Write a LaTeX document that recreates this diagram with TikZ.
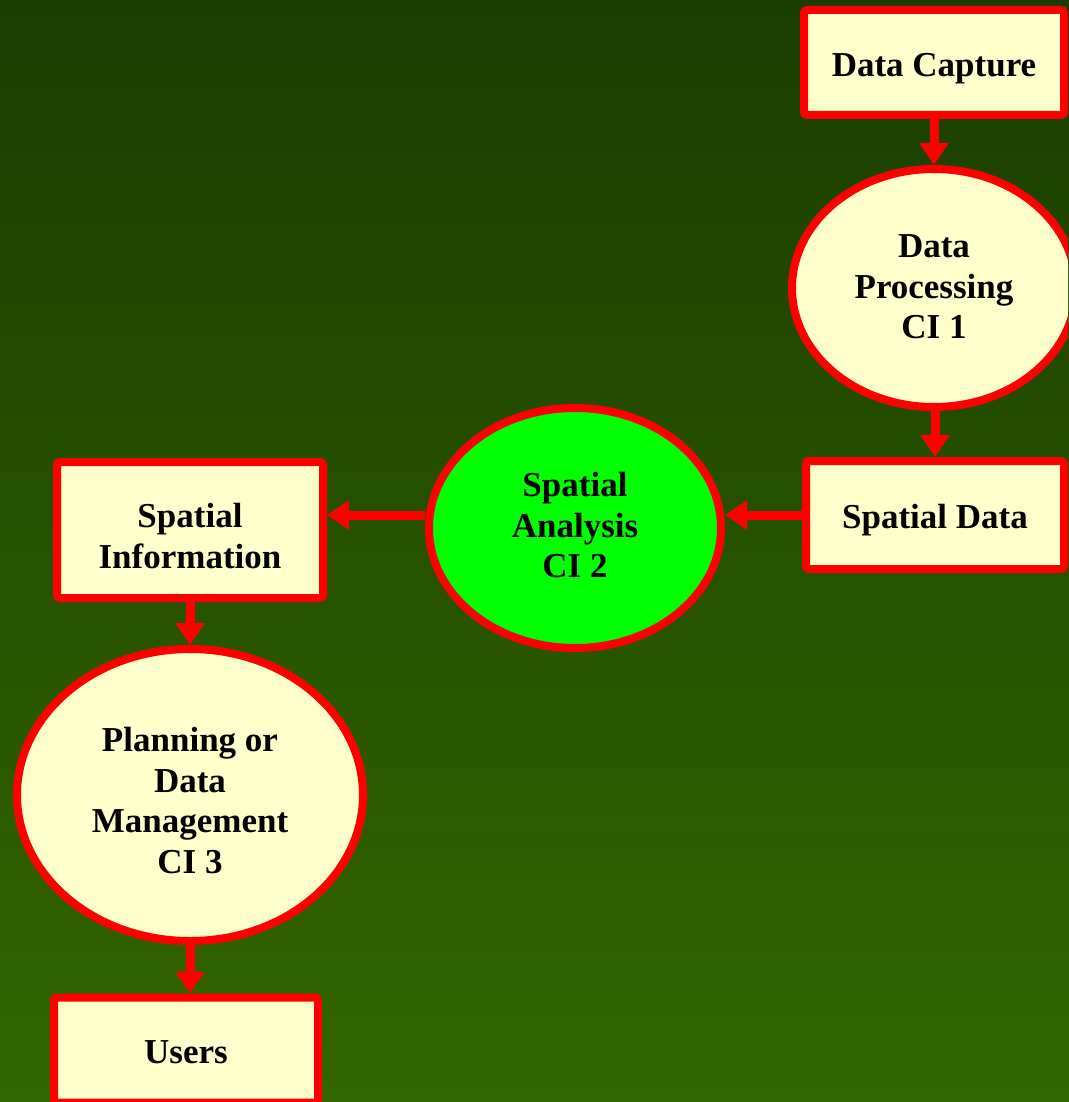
\documentclass[tikz,border=0pt]{standalone}
\usepackage{fontspec}
\setmainfont{Liberation Serif}
\usetikzlibrary{shapes.geometric,arrows.meta}
\definecolor{bgtop}{HTML}{1A3D02}
\definecolor{bgbot}{HTML}{336600}
\definecolor{cream}{HTML}{FFFFCC}
\definecolor{brightgreen}{HTML}{00FF00}
% centred block of lines, lowered by #1 without changing its reported size
\newcommand\lowered[2]{\raisebox{-#1}[\height][\depth]{\begin{tabular}{@{}c@{}}#2\end{tabular}}}
\begin{document}
\begin{tikzpicture}[x=1pt,y=-1pt,
  lbl/.style={font=\fontsize{35}{40.5}\bfseries\selectfont, text=black},
  box/.style={lbl, rectangle, draw=red, line width=8pt, fill=cream, rounded corners=3pt, inner sep=0pt},
  oval/.style={lbl, ellipse, draw=red, line width=8pt, fill=cream, inner sep=0pt},
  arr/.style={draw=red, line width=9pt, -{Triangle[width=28pt,length=22pt]}}]
  % background, a little larger than the page so no edge shows
  \useasboundingbox (0,0) rectangle (1068,1102);
  \fill[top color=bgtop, bottom color=bgbot] (-6,-6) rectangle (1074,1108);
  \clip (-6,-6) rectangle (1068,1102);

  % process chain
  \node[box, minimum width=260pt, minimum height=105pt] (dc) at (934,62.5)
    {\lowered{5.5pt}{Data Capture}};
  \node[oval, minimum width=284pt, minimum height=238pt] (dp) at (934,288)
    {\lowered{2pt}{Data\\Processing\\CI 1}};
  \node[box, minimum width=258pt, minimum height=108pt] (sd) at (935,515)
    {\lowered{5pt}{Spatial Data}};
  \node[oval, fill=brightgreen, minimum width=292pt, minimum height=240pt] (sa) at (575,528)
    {\lowered{1pt}{Spatial\\Analysis\\CI 2}};
  \node[box, minimum width=266pt, minimum height=136pt] (si) at (190,530)
    {\lowered{10pt}{Spatial\\Information}};
  \node[oval, minimum width=346pt, minimum height=292pt] (pl) at (190,795)
    {\lowered{9.5pt}{Planning or\\Data\\Management\\CI 3}};
  \node[box, minimum width=264pt, minimum height=105pt] (us) at (186,1050)
    {\lowered{5pt}{Users}};

  % connectors
  \draw[arr] (dc.south) -- (dp.north);
  \draw[arr] (sd.north |- dp.south) -- (sd.north);
  \draw[arr] (sd.west) -- (sd.west -| sa.east);
  \draw[arr] (sa.west |- sd.west) -- (si.east |- sd.west);
  \draw[arr] (si.south) -- (pl.north);
  \draw[arr] (pl.south) -- (pl.south |- us.north);
\end{tikzpicture}
\end{document}
